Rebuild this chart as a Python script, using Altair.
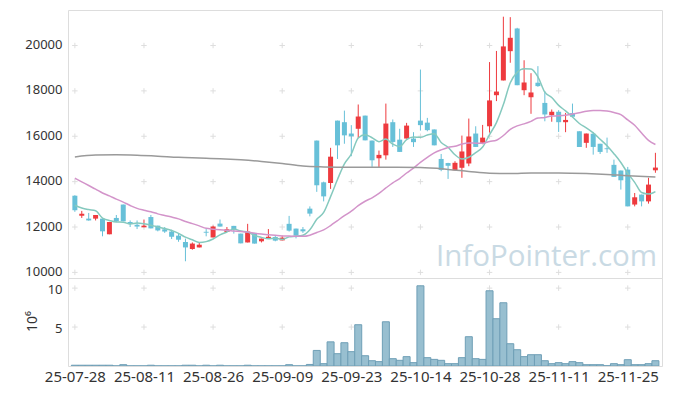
import altair as alt
import pandas as pd

# ---------------- data ----------------
tick_labels = ["25-07-28", "25-08-11", "25-08-26", "25-09-09", "25-09-23",
               "25-10-14", "25-10-28", "25-11-11", "25-11-25"]
tick_index = [0, 10, 20, 30, 40, 50, 60, 70, 80]
price_ticks = [10000, 12000, 14000, 16000, 18000, 20000]
vol_ticks = [5, 10]

opens = [13380, 12500, 12370, 12370, 12370, 11680, 12400, 12990, 12220, 12100,
         11990, 12440, 12060, 11900, 11800, 11620, 11340, 11030, 11100, 11790,
         11540, 12150, 11780, 12050, 11710, 11320, 11740, 11370, 11490, 11560,
         11410, 12140, 11930, 11900, 12810, 15810, 13970, 13940, 16690, 16620,
         16120, 16330, 16910, 15810, 15030, 15160, 16620, 15850, 15900, 15900,
         16690, 16600, 16300, 15000, 14820, 14500, 14610, 14800, 16120, 15710,
         16440, 17810, 18460, 19750, 20750, 18030, 17720, 18360, 17470, 16930,
         17080, 16620, 17020, 16220, 15710, 16110, 15670, 15470, 14740, 14490,
         14530, 12990, 13430, 13130, 14500]
highs = [13400, 12710, 12620, 12530, 12370, 12220, 12530, 12990, 12290, 12290,
         12330, 12530, 12060, 12000, 11880, 11710, 11490, 11320, 11320, 11910,
         12060, 12330, 12000, 12050, 11710, 12140, 11740, 11490, 11910, 11620,
         11620, 12490, 11930, 12000, 12910, 15810, 14000, 15490, 16690, 17130,
         16490, 17400, 16910, 15810, 15370, 17440, 16740, 16330, 16590, 16180,
         18940, 16810, 16300, 15220, 14830, 14900, 16030, 16780, 16440, 16500,
         19270, 19760, 21270, 21250, 20780, 19350, 18780, 19090, 17990, 17180,
         17150, 17030, 17440, 16220, 16120, 16190, 15670, 15940, 14970, 14490,
         14650, 13500, 13430, 14170, 15270]
lows = [12670, 12400, 12280, 12290, 11590, 11680, 12220, 12250, 12000, 11910,
        11990, 11940, 11810, 11740, 11470, 11350, 10490, 11000, 11100, 11590,
        11540, 12020, 11780, 11710, 11280, 11320, 11270, 11320, 11490, 11370,
        11410, 11800, 11500, 11740, 12470, 13550, 13130, 13680, 15000, 15670,
        15120, 15930, 15820, 14650, 14610, 14970, 15530, 15310, 15900, 15530,
        16250, 16220, 15600, 14460, 14120, 14500, 14170, 14680, 15530, 15650,
        16160, 17550, 18460, 19240, 18250, 17810, 16990, 18180, 16660, 16640,
        16190, 16180, 16840, 15530, 15490, 15190, 15220, 15270, 14210, 13650,
        12910, 12910, 12910, 13030, 14390]
closes = [12740, 12590, 12290, 12530, 11810, 12220, 12250, 12250, 12140, 12020,
          12060, 11940, 11850, 11800, 11570, 11440, 11100, 11270, 11220, 11750,
          12020, 12020, 11900, 11880, 11280, 11800, 11270, 11490, 11570, 11400,
          11530, 11840, 11620, 11810, 12590, 13840, 13350, 15100, 15600, 16040,
          16000, 16870, 15820, 14940, 15180, 16560, 15750, 15310, 16470, 15740,
          16490, 16270, 15600, 14520, 14700, 14830, 15330, 15990, 15530, 15940,
          17580, 17970, 19960, 20340, 18250, 18370, 17930, 18210, 16960, 17080,
          16620, 16720, 16860, 15530, 16120, 15530, 15310, 15430, 14210, 14060,
          12910, 13310, 13130, 13870, 14620]
# volume in millions of shares
volumes = [0.1, 0.1, 0.1, 0.1, 0.1, 0.1, 0.02, 0.17, 0.02, 0.02,
           0.02, 0.1, 0.02, 0.02, 0.02, 0.02, 0.1, 0.1, 0.02, 0.1,
           0.02, 0.1, 0.02, 0.02, 0.02, 0.1, 0.02, 0.02, 0.02, 0.02,
           0.02, 0.17, 0.02, 0.02, 0.2, 2.0, 0.3, 3.1, 1.58, 2.99,
           1.84, 5.3, 1.32, 0.68, 0.56, 5.68, 0.94, 0.73, 1.2, 0.43,
           10.3, 1.07, 0.85, 0.73, 0.3, 0.3, 1.07, 3.76, 0.94, 0.85,
           9.66, 6.07, 8.12, 2.86, 2.09, 1.2, 1.45, 1.45, 0.68, 0.3,
           0.43, 0.3, 0.56, 0.43, 0.17, 0.17, 0.17, 0.04, 0.3, 0.17,
           0.81, 0.17, 0.17, 0.3, 0.68]
ma5 = [12960, 12840, 12770, 12720, 12392, 12288, 12220, 12212, 12134, 12176,
       12144, 12082, 12002, 11934, 11844, 11720, 11552, 11436, 11320, 11356,
       11472, 11656, 11782, 11914, 11820, 11776, 11626, 11544, 11482, 11506,
       11452, 11566, 11592, 11640, 11878, 12340, 12642, 13338, 14096, 14786,
       15218, 15922, 16066, 15934, 15762, 15874, 15650, 15548, 15854, 15966,
       15952, 16056, 16114, 15724, 15516, 15184, 14996, 15074, 15276, 15524,
       16074, 16602, 17396, 18358, 18820, 18978, 18970, 18620, 17944, 17710,
       17360, 17118, 16848, 16562, 16370, 16152, 15870, 15582, 15232, 14846,
       14370, 13970, 13520, 13452, 13564]
ma20 = [14150, 13990, 13830, 13670, 13500, 13370, 13230, 13100, 12950, 12820,
        12740, 12670, 12580, 12510, 12440, 12360, 12240, 12150, 12050, 11942,
        11906, 11878, 11858, 11826, 11799, 11778, 11729, 11691, 11663, 11632,
        11605, 11600, 11589, 11589, 11640, 11760, 11873, 12064, 12283, 12498,
        12697, 12939, 13135, 13288, 13483, 13721, 13945, 14136, 14381, 14598,
        14846, 15068, 15267, 15402, 15508, 15557, 15656, 15701, 15697, 15692,
        15771, 15826, 16033, 16303, 16457, 16547, 16656, 16801, 16826, 16893,
        16899, 16922, 16985, 17035, 17106, 17141, 17140, 17112, 17046, 16952,
        16719, 16486, 16144, 15821, 15639]
ma_long_idx = [0, 3, 6, 9, 12, 15, 18, 21, 24, 27, 30, 33, 36, 40, 45, 50,
               54, 57, 60, 63, 66, 70, 74, 77, 80, 84]
ma_long = [15090, 15170, 15180, 15160, 15120, 15070, 15040, 15010, 14960, 14890,
           14800, 14690, 14650, 14630, 14630, 14620, 14540, 14450, 14370, 14355,
           14380, 14385, 14360, 14320, 14260, 14200]
watermark = "InfoPointer.com"

# ---------------- styling ----------------
RED = "#ee3a3e"
BLUE = "#67c0d8"
FONT = "Noto Sans"
LABEL_COLOR = "#333333"
CROSS = "#dedede"
W = 594
H_PRICE = 268
H_VOL = 88
XDOM = [-0.27, 84.23]

candles = pd.DataFrame({
    "i": list(range(len(opens))),
    "open": opens, "high": highs, "low": lows, "close": closes,
})
candles["dir"] = ["up" if c >= o else "down" for o, c in zip(opens, closes)]

lines = pd.concat([
    pd.DataFrame({"i": list(range(len(ma5))), "v": ma5, "s": "ma5"}),
    pd.DataFrame({"i": list(range(len(ma20))), "v": ma20, "s": "ma20"}),
    pd.DataFrame({"i": ma_long_idx, "v": ma_long, "s": "malong"}),
])

vol = pd.DataFrame({"i": list(range(len(volumes))), "vol": volumes})

price_cross = pd.DataFrame([(x, y) for x in tick_index for y in price_ticks], columns=["i", "p"])
vol_cross = pd.DataFrame([(x, y) for x in tick_index for y in vol_ticks], columns=["i", "p"])

xs = alt.Scale(domain=XDOM, nice=False, zero=False)
ys = alt.Scale(domain=[9753, 21565], nice=False, zero=False)
vs = alt.Scale(domain=[0, 11.3], nice=False, zero=False)
col = alt.Color("dir:N", scale=alt.Scale(domain=["up", "down"], range=[RED, BLUE]), legend=None)

price_axis = alt.Axis(values=price_ticks, format="d", grid=False, ticks=False, domain=False,
                      labelPadding=6, labelFontSize=13, labelFont=FONT, labelColor=LABEL_COLOR,
                      labelOffset=-1, title=None)

cross_shape = "M-1,0H1M0,-1V1"

wm = alt.Chart(pd.DataFrame({"t": [watermark]})).mark_text(
    font="Open Sans", fontSize=29.5, color="#c9dae4", align="left", baseline="alphabetic"
).encode(x=alt.value(368), y=alt.value(256), text="t:N")

pc = alt.Chart(price_cross).mark_point(shape=cross_shape, filled=False, size=30,
                                       strokeWidth=1, color=CROSS, opacity=1).encode(
    x=alt.X("i:Q", scale=xs, axis=None),
    y=alt.Y("p:Q", scale=ys, axis=price_axis),
)

wicks = alt.Chart(candles).mark_rule(strokeWidth=1, clip=True).encode(
    x=alt.X("i:Q", scale=xs, axis=None),
    y=alt.Y("low:Q", scale=ys, axis=price_axis),
    y2="high:Q",
    color=col,
)
bodies = alt.Chart(candles).mark_bar(size=5, clip=True).encode(
    x=alt.X("i:Q", scale=xs, axis=None),
    y=alt.Y("open:Q", scale=ys, axis=price_axis),
    y2="close:Q",
    color=col,
)
ma_lines = alt.Chart(lines).mark_line(strokeWidth=1.5, clip=True, interpolate="monotone").encode(
    x=alt.X("i:Q", scale=xs, axis=None),
    y=alt.Y("v:Q", scale=ys, axis=price_axis),
    detail="s:N",
    stroke=alt.Stroke("s:N", scale=alt.Scale(domain=["ma5", "ma20", "malong"],
                                             range=["#85c9be", "#d394ca", "#9a9a9a"]),
                      legend=None),
)

price = alt.layer(wm, pc, wicks, bodies, ma_lines).properties(width=W, height=H_PRICE)

label_expr = "[" + ",".join("'%s'" % t for t in tick_labels) + "][indexof([" + \
    ",".join(str(t) for t in tick_index) + "], datum.value)]"

x_axis = alt.Axis(values=tick_index, labelExpr=label_expr, grid=False, ticks=False, domain=False,
                  labelPadding=3, labelFontSize=15, labelFont=FONT, labelColor=LABEL_COLOR,
                  title=None, labelFlush=False)
vol_axis = alt.Axis(values=vol_ticks, format="d", grid=False, ticks=False, domain=False,
                    labelPadding=6, labelFontSize=13, labelFont=FONT, labelColor=LABEL_COLOR,
                    labelOffset=1,
                    title="10⁶", titleFont=FONT, titleFontSize=14, titleFontWeight="normal",
                    titleColor=LABEL_COLOR, titleX=-36, titleY=43, titleAngle=270,
                    titleAlign="center", titleBaseline="middle")

vc = alt.Chart(vol_cross).mark_point(shape=cross_shape, filled=False, size=30,
                                     strokeWidth=1, color=CROSS, opacity=1).encode(
    x=alt.X("i:Q", scale=xs, axis=x_axis),
    y=alt.Y("p:Q", scale=vs, axis=vol_axis),
)
vbars = alt.Chart(vol).mark_bar(size=7, color="#98bfd0", stroke="#6f9fb6", strokeWidth=1,
                                clip=True).encode(
    x=alt.X("i:Q", scale=xs, axis=x_axis),
    y=alt.Y("vol:Q", scale=vs, axis=vol_axis),
)
volume = alt.layer(vc, vbars).properties(width=W, height=H_VOL)

chart = alt.vconcat(price, volume, spacing=0, bounds="flush").properties(
    padding={"left": 16, "top": 1, "right": 2, "bottom": 5}
).configure_view(stroke="#e3e3e3", strokeWidth=1).configure(background="white")

chart.save("out.html", embed_options={"renderer": "svg", "actions": False})
